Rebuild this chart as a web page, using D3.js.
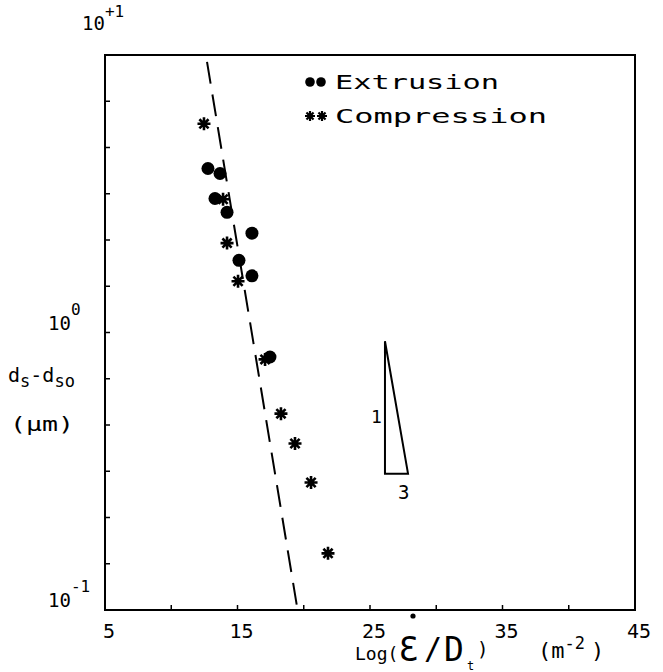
<!DOCTYPE html>
<html><head><meta charset="utf-8">
<script src="https://cdn.jsdelivr.net/npm/d3@7"></script>
<style>body{margin:0;background:#fff}svg{display:block}text{font-family:"DejaVu Sans Mono",monospace;fill:#000}</style>
</head><body>
<svg id="c" width="663" height="672"></svg>
<script>
// Data
const extrusionX = [12.77, 13.68, 13.30, 14.21, 16.09, 15.11, 16.09, 17.45];
const extrusionY = [3.90, 3.74, 3.04, 2.71, 2.28, 1.82, 1.60, 0.816];
const compressionX = [12.47, 13.91, 14.21, 15.04, 17.08, 18.28, 19.34, 20.55, 21.83];
const compressionY = [5.65, 3.02, 2.10, 1.53, 0.80, 0.51, 0.398, 0.288, 0.160];
const fitX = [12.70, 19.49];
const fitY = [9.44, 0.103];
const slopeTriX = [26.13, 26.13, 27.87];
const slopeTriY = [0.93, 0.31, 0.31];
const xTickLabels = [5, 15, 25, 35, 45];
const xMinorTicks = [10, 15, 20, 25, 30, 35, 40];
const yDecades = [["10","+1",10],["10","0",1],["10","-1",0.1]];
const yMinorTicks = [1,2,3,4,5,6,7,8,9,10,11].map(k => Math.pow(10, 1 - k/6));

const L = 105, R = 635, T = 55, B = 610;
const svg = d3.select("#c");
const g = svg.append("g");
const x = d3.scaleLinear().domain([5,45]).range([L,R]);
const y = d3.scaleLog().domain([0.1,10]).range([B,T]);

// frame
g.append("rect").attr("x",L).attr("y",T).attr("width",R-L).attr("height",B-T)
 .attr("fill","none").attr("stroke","#000").attr("stroke-width",2);

// ticks inward
g.selectAll(".xt").data(xMinorTicks).enter().append("line")
 .attr("x1",d=>x(d)).attr("x2",d=>x(d)).attr("y1",B).attr("y2",B-5)
 .attr("stroke","#000").attr("stroke-width",1.5);
g.selectAll(".yt").data(yMinorTicks).enter().append("line")
 .attr("x1",L).attr("x2",L+5).attr("y1",d=>y(d)).attr("y2",d=>y(d))
 .attr("stroke","#000").attr("stroke-width",1.5);

// x labels
g.selectAll(".xl").data(xTickLabels).enter().append("text")
 .attr("x",d=>x(d)+4).attr("y",B+28).attr("text-anchor","middle")
 .attr("font-size",20).text(d=>d);

// y decade labels
yDecades.forEach(([b,e,v],i)=>{
  const top = (i===0);
  const t = g.append("text").attr("x",top ? L-23 : L-57).attr("y",top ? y(v)-25 : y(v)-3).attr("font-size",19);
  t.append("tspan").text(b);
  t.append("tspan").attr("dy",top ? -13 : -15).attr("font-size",16).text(e);
});

// y title
const yt = g.append("text").attr("x",8).attr("y",382).attr("font-size",20);
yt.append("tspan").text("d");
yt.append("tspan").attr("dy",5).attr("font-size",17).text("s");
yt.append("tspan").attr("dy",-5).text("-d");
yt.append("tspan").attr("dy",5).attr("font-size",17).text("so");
g.append("text").attr("x",10).attr("y",431).attr("font-size",20)
 .attr("textLength",64).attr("lengthAdjust","spacingAndGlyphs").text("(\u03bcm)");

// x title (pieces)
g.append("text").attr("x",355).attr("y",660).attr("font-size",18).text("Log(");
g.append("text").attr("x",399).attr("y",661).attr("font-size",33).attr("font-family","DejaVu Sans").text("\u0190");
g.append("text").attr("x",424).attr("y",659).attr("font-size",30).attr("font-family","DejaVu Sans").text("/");
g.append("text").attr("x",444).attr("y",661).attr("font-size",33).attr("font-family","DejaVu Sans").text("D");
g.append("text").attr("x",467).attr("y",670).attr("font-size",12).text("t");
g.append("text").attr("x",477).attr("y",656).attr("font-size",19).text(")");
const xu = g.append("text").attr("x",538).attr("y",658).attr("font-size",22);
xu.append("tspan").text("(m");
xu.append("tspan").attr("dy",-9).attr("font-size",17).text("-2");
xu.append("tspan").attr("dy",9).attr("dx",6).text(")");
g.append("circle").attr("cx",413).attr("cy",616).attr("r",2.6).attr("fill","#000");

// fit dashed line
g.append("line").attr("x1",x(fitX[0])).attr("y1",y(fitY[0])).attr("x2",x(fitX[1])).attr("y2",y(fitY[1]))
 .attr("stroke","#000").attr("stroke-width",2).attr("stroke-dasharray","22,11");

// asterisk path
function star(cx,cy,r){
  let p="";
  for(let i=0;i<4;i++){const a=i*Math.PI/4;
    p+=`M${cx-r*Math.cos(a)},${cy-r*Math.sin(a)}L${cx+r*Math.cos(a)},${cy+r*Math.sin(a)}`;}
  return p;
}
// extrusion circles
g.selectAll(".ex").data(extrusionX.map((v,i)=>[v,extrusionY[i]])).enter().append("circle")
 .attr("cx",d=>x(d[0])).attr("cy",d=>y(d[1])).attr("r",6.5).attr("fill","#000");
// compression stars
g.selectAll(".cp").data(compressionX.map((v,i)=>[v,compressionY[i]])).enter().append("path")
 .attr("d",d=>star(x(d[0]),y(d[1]),6.5)).attr("stroke","#000").attr("stroke-width",2.6);

// slope triangle
const tri = slopeTriX.map((v,i)=>[x(v),y(slopeTriY[i])]);
g.append("path").attr("d",d3.line()(tri)+"Z").attr("fill","none").attr("stroke","#000").attr("stroke-width",2);
g.append("text").attr("x",x(slopeTriX[0])-14).attr("y",y(0.47)).attr("font-size",18).text("1");
g.append("text").attr("x",x(slopeTriX[2])-10).attr("y",y(0.31)+25).attr("font-size",19).text("3");

// legend
g.append("circle").attr("cx",310).attr("cy",82).attr("r",4.8).attr("fill","#000");
g.append("circle").attr("cx",321).attr("cy",82).attr("r",4.8).attr("fill","#000");
g.append("text").attr("x",335).attr("y",89).attr("font-size",19).attr("textLength",164).attr("lengthAdjust","spacingAndGlyphs").text("Extrusion");
g.append("path").attr("d",star(310,116,5)+star(322,116,5)).attr("stroke","#000").attr("stroke-width",2.2);
g.append("text").attr("x",335).attr("y",123).attr("font-size",19).attr("textLength",212).attr("lengthAdjust","spacingAndGlyphs").text("Compression");
</script>
</body></html>
